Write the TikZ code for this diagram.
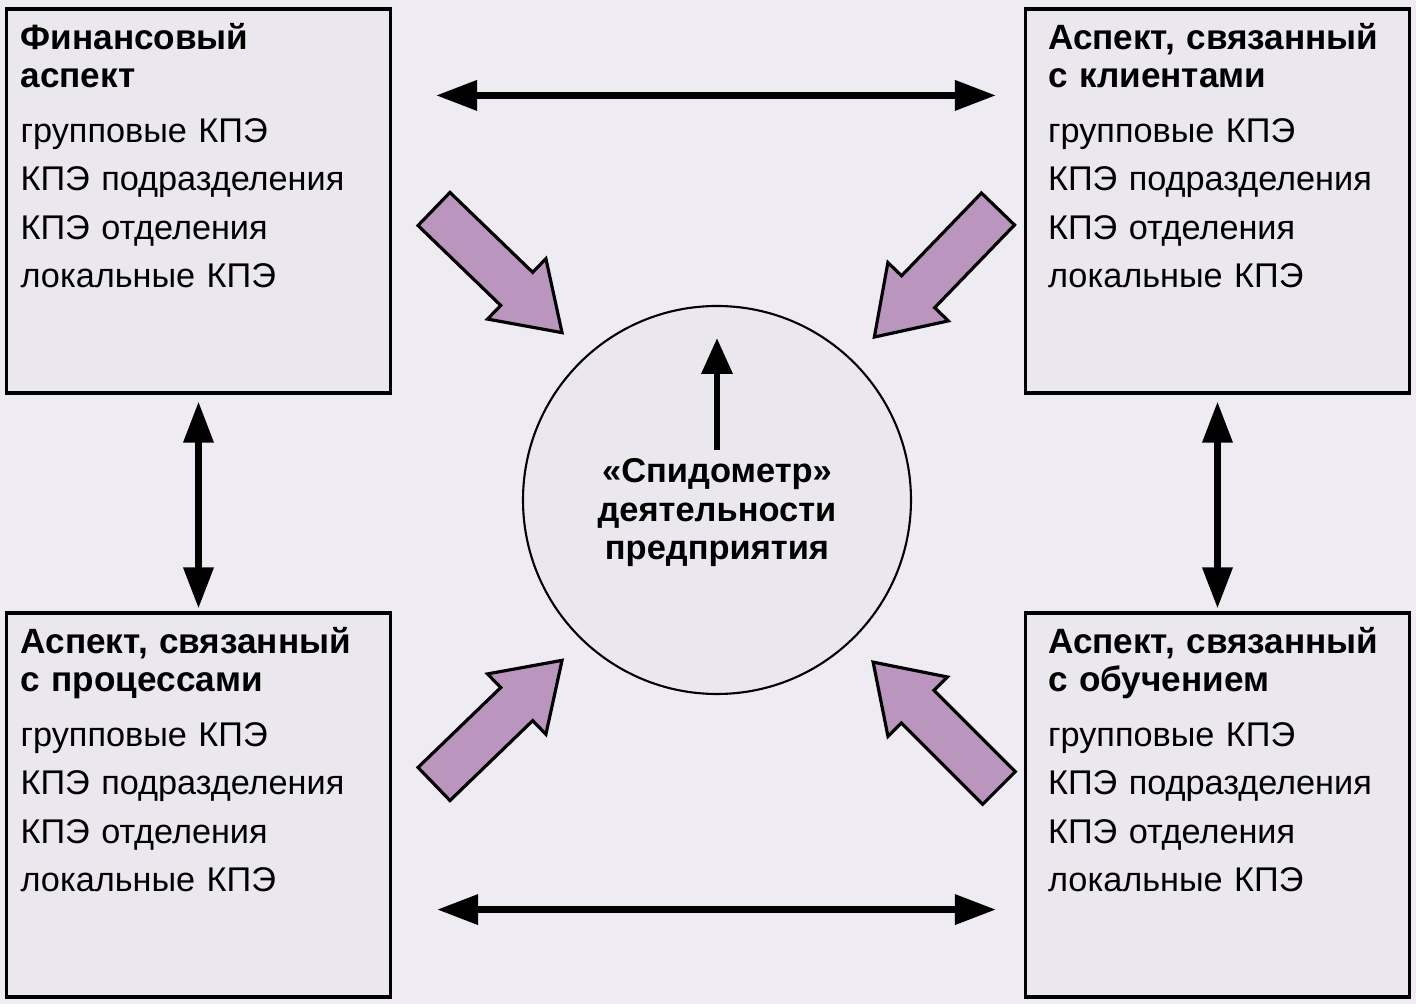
\documentclass[tikz,border=0pt]{standalone}
\usepackage{fontspec}
\setmainfont{Liberation Sans}
\usetikzlibrary{arrows, arrows.meta}
\usetikzlibrary{calc}
\definecolor{pagebg}{RGB}{239,235,242}
\definecolor{boxbg}{RGB}{235,231,238}
\definecolor{lilac}{RGB}{186,149,190}

\begin{document}
\begin{tikzpicture}[
    aspect/.style={rectangle, draw, line width=0.9pt, fill=boxbg, minimum width=3.84cm, minimum height=3.84cm, inner sep=0pt},
    aspecttext/.style={anchor=base west, inner sep=0pt, text width=3.7cm, align=left, font=\fontsize{9.75}{13.8}\selectfont},
    twoway/.style={line width=1.9pt, {Triangle[length=4.1mm, width=2.9mm]}-{Triangle[length=4.1mm, width=2.9mm]}},
    oneway/.style={line width=1.9pt, -{Triangle[length=3.6mm, width=3.0mm]}},
    fatarrow/.style={draw, line width=0.9pt, fill=lilac}
  ]
      \fill[pagebg] (0, 0) rectangle (14.16, 10.04);
      \useasboundingbox (0, 0) rectangle (14.16, 10.04);

      \node[aspect] (fin) at (1.985, 8.03) {};
      \node[aspect] (cli) at (12.175, 8.03) {};
      \node[aspect] (proc) at (1.985, 1.99) {};
      \node[aspect] (learn) at (12.175, 1.99) {};

      \node[aspecttext] (fintext) at ([shift={(1.5mm, -4.2mm)}]fin.north west) {{\fontsize{10}{13.8}\selectfont\bfseries Финансовый\\[-3.1pt]аспект}\\[1.85pt]групповые КПЭ\\КПЭ подразделения\\КПЭ отделения\\локальные КПЭ};
      \node[aspecttext] (clitext) at ([shift={(2.35mm, -4.2mm)}]cli.north west) {{\fontsize{10}{13.8}\selectfont\bfseries Аспект, связанный\\[-3.1pt]с клиентами}\\[1.85pt]групповые КПЭ\\КПЭ подразделения\\КПЭ отделения\\локальные КПЭ};
      \node[aspecttext] (proctext) at ([shift={(1.5mm, -4.2mm)}]proc.north west) {{\fontsize{10}{13.8}\selectfont\bfseries Аспект, связанный\\[-3.1pt]с процессами}\\[1.85pt]групповые КПЭ\\КПЭ подразделения\\КПЭ отделения\\локальные КПЭ};
      \node[aspecttext] (learntext) at ([shift={(2.35mm, -4.2mm)}]learn.north west) {{\fontsize{10}{13.8}\selectfont\bfseries Аспект, связанный\\[-3.1pt]с обучением}\\[1.85pt]групповые КПЭ\\КПЭ подразделения\\КПЭ отделения\\локальные КПЭ};

      \node[circle, draw, line width=0.6pt, fill=boxbg, minimum size=3.88cm, inner sep=0pt] (speedo) at (7.17, 5.04) {};
      \node[anchor=base, inner sep=0pt, text width=3.6cm, align=center, font=\fontsize{9.8}{10.95}\selectfont\bfseries] (speedotext) at ([yshift=1.7mm]speedo.center) {«Спидометр»\\деятельности\\предприятия};

      \draw[oneway] ([yshift=5mm]speedo.center) -- ([yshift=16.2mm]speedo.center);

      \draw[twoway, shorten <=4.4mm, shorten >=2.8mm] ([yshift=-8.8mm]fin.north east) -- ([yshift=-8.8mm]cli.north west);
      \draw[twoway, shorten <=4.5mm, shorten >=2.8mm] ([yshift=8.9mm]proc.south east) -- ([yshift=8.9mm]learn.south west);
      \draw[twoway, shorten <=0.7mm, shorten >=0.3mm] (fin.south) -- (proc.north);
      \draw[twoway, shorten <=0.7mm, shorten >=0.3mm] (cli.south) -- (learn.north);

      \foreach \x/\y/\a in {4.34/7.95/-44, 9.98/7.95/-134, 4.34/2.20/44, 9.99/2.16/135}
        \draw[fatarrow, shift={(\x, \y)}, rotate=\a] (0, 0.23) -- (1.15, 0.23) -- (1.15, 0.42) -- (1.78, 0) -- (1.15, -0.42) -- (1.15, -0.23) -- (0, -0.23) -- cycle;
    \end{tikzpicture}
\end{document}
